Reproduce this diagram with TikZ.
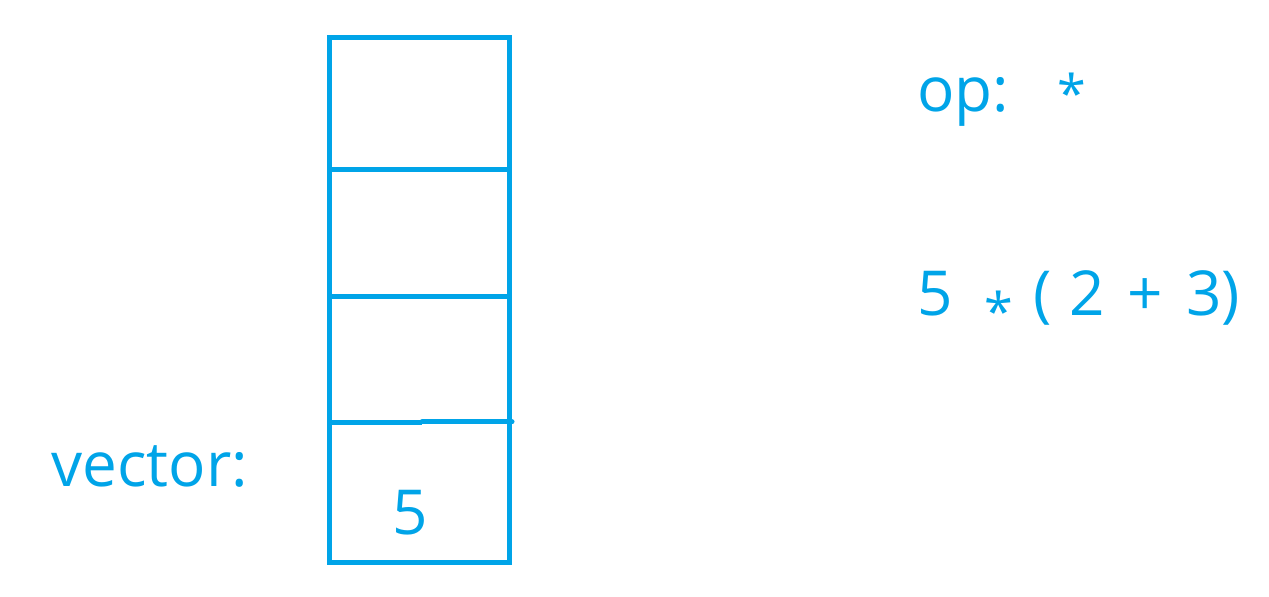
\documentclass[tikz,border=0pt]{standalone}
\usepackage{fontspec}
\setmainfont{Open Sans}
\definecolor{sky}{HTML}{00A4E8}
\begin{document}
\begin{tikzpicture}[x=0.5pt,y=-0.5pt,
  cell/.style={draw=sky,line width=2.5pt},
  lbl/.style={text=sky,inner sep=0pt,anchor=base west,font=\fontsize{31}{38}\selectfont},
  star/.style={lbl,font=\fontsize{26}{30}\selectfont}]
\useasboundingbox (0,0) rectangle (1269,597);
\draw[cell] (329,38) rectangle (509,563);
\coordinate (l1) at (329,170); \coordinate (r1) at (507,170);
\coordinate (l2) at (329,297); \coordinate (r2) at (511,297);
\coordinate (l3) at (329,423); \coordinate (m3) at (422,423); \coordinate (r3) at (512,423);
\draw[cell] (l1) -- (r1);
\draw[cell] (l2) -- (r2);
\draw[cell] (l3) -- (m3);
\draw[cell,line cap=round] ([yshift=0.5pt]m3) -- ([yshift=0.5pt]r3);
\node[lbl] (vec) at (51,487) {vector:};
\node[lbl,anchor=base] (five) at (410,535) {5};
\node[lbl] (op) at (917,112) {op:};
\node[star] (opstar) at (1057,113) {*};
\node[lbl] (e5) at (917,316) {5};
\node[star] (estar) at (984,331) {*};
\node[lbl] (lp) at (1033,316) {(};
\node[lbl] (two) at (1069,316) {2};
\node[lbl] (plus) at (1127,316) {+};
\node[lbl] (three) at (1186,316) {3};
\node[lbl] (rp) at (1221,316) {)};
\end{tikzpicture}
\end{document}
